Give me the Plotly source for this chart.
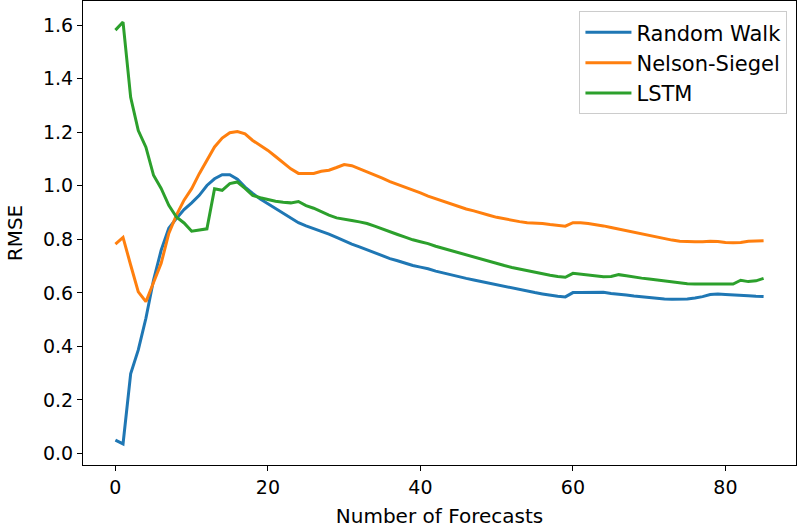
import plotly.graph_objects as go

# Forecast horizon index (number of forecasts)
n_forecasts = list(range(86))

random_walk = [
    0.050, 0.036, 0.298, 0.387, 0.505, 0.648, 0.759, 0.841, 0.878, 0.911,
    0.936, 0.964, 1.001, 1.026, 1.041, 1.041, 1.024, 0.995, 0.971, 0.950,
    0.933, 0.915, 0.896, 0.880, 0.862, 0.850, 0.840, 0.831, 0.819, 0.807,
    0.794, 0.782, 0.772, 0.761, 0.749, 0.738, 0.728, 0.720, 0.711, 0.702,
    0.696, 0.690, 0.681, 0.674, 0.666, 0.660, 0.654, 0.648, 0.642, 0.635,
    0.629, 0.623, 0.618, 0.612, 0.607, 0.601, 0.596, 0.591, 0.587, 0.585,
    0.601, 0.601, 0.602, 0.603, 0.602, 0.598, 0.596, 0.592, 0.588, 0.585,
    0.582, 0.580, 0.577, 0.576, 0.577, 0.577, 0.581, 0.586, 0.594, 0.596,
    0.594, 0.593, 0.592, 0.589, 0.587, 0.586,
]

nelson_siegel = [
    0.782, 0.807, 0.704, 0.604, 0.567, 0.635, 0.710, 0.822, 0.890, 0.946,
    0.989, 1.045, 1.097, 1.145, 1.178, 1.198, 1.202, 1.194, 1.169, 1.150,
    1.132, 1.109, 1.087, 1.063, 1.046, 1.045, 1.046, 1.054, 1.058, 1.068,
    1.079, 1.075, 1.064, 1.052, 1.040, 1.028, 1.015, 1.005, 0.995, 0.985,
    0.973, 0.961, 0.951, 0.941, 0.932, 0.922, 0.913, 0.906, 0.897, 0.890,
    0.882, 0.876, 0.871, 0.866, 0.862, 0.861, 0.859, 0.855, 0.851, 0.849,
    0.862, 0.862, 0.859, 0.855, 0.850, 0.844, 0.838, 0.831, 0.825, 0.819,
    0.813, 0.807, 0.802, 0.797, 0.793, 0.791, 0.791, 0.791, 0.793, 0.792,
    0.788, 0.787, 0.788, 0.793, 0.794, 0.795,
]

lstm = [
    1.581, 1.611, 1.330, 1.206, 1.144, 1.039, 0.990, 0.927, 0.883, 0.861,
    0.830, 0.834, 0.839, 0.989, 0.983, 1.008, 1.014, 0.990, 0.964, 0.955,
    0.948, 0.942, 0.938, 0.936, 0.941, 0.926, 0.916, 0.902, 0.890, 0.880,
    0.874, 0.870, 0.865, 0.859, 0.849, 0.838, 0.828, 0.818, 0.808, 0.798,
    0.791, 0.784, 0.774, 0.766, 0.757, 0.748, 0.740, 0.732, 0.725, 0.717,
    0.710, 0.702, 0.695, 0.689, 0.683, 0.676, 0.671, 0.666, 0.661, 0.658,
    0.673, 0.670, 0.666, 0.663, 0.660, 0.661, 0.668, 0.664, 0.659, 0.655,
    0.652, 0.648, 0.645, 0.642, 0.638, 0.634, 0.633, 0.632, 0.633, 0.633,
    0.634, 0.633, 0.647, 0.642, 0.645, 0.654,
]

series = [
    ("Random Walk", random_walk, "#1f77b4"),
    ("Nelson-Siegel", nelson_siegel, "#ff7f0e"),
    ("LSTM", lstm, "#2ca02c"),
]

x_ticks = [0, 20, 40, 60, 80]
y_ticks = [0.0, 0.2, 0.4, 0.6, 0.8, 1.0, 1.2, 1.4, 1.6]

FONT = "DejaVu Sans"

fig = go.Figure()
for i, (name, values, color) in enumerate(series):
    fig.add_trace(go.Scatter(
        x=n_forecasts, y=values, mode="lines", name=name,
        legendgroup=f"g{i}",
        line=dict(color=color, width=3),
    ))

# 5% padding around the data, like matplotlib's default autoscale
xmin, xmax = min(n_forecasts), max(n_forecasts)
all_y = random_walk + nelson_siegel + lstm
ymin, ymax = min(all_y), max(all_y)
xpad = 0.05 * (xmax - xmin)
ypad = 0.05 * (ymax - ymin)

axis_common = dict(
    showline=True, linecolor="black", linewidth=1.2, mirror=True,
    ticks="outside", ticklen=5, tickwidth=1.2, tickcolor="black",
    showgrid=False, zeroline=False,
    tickfont=dict(family=FONT, size=19, color="black"),
)

fig.update_layout(
    width=797, height=531,
    margin=dict(l=83, r=1, t=1, b=66),
    paper_bgcolor="white", plot_bgcolor="white",
    font=dict(family=FONT, size=19, color="black"),
    showlegend=True,
    legend=dict(
        x=0.988, y=0.978, xanchor="right", yanchor="top",
        bgcolor="rgba(255,255,255,0.8)", bordercolor="#cccccc", borderwidth=1,
        font=dict(family=FONT, size=21, color="black"),
        itemwidth=46,
        tracegroupgap=0, traceorder="grouped",
    ),
    xaxis=dict(
        range=[xmin - xpad, xmax + xpad],
        tickvals=x_ticks,
        title=dict(text="Number of Forecasts", font=dict(family=FONT, size=20), standoff=12),
        **axis_common,
    ),
    yaxis=dict(
        range=[ymin - ypad, ymax + ypad],
        tickvals=y_ticks, tickformat=".1f",
        title=dict(text="RMSE", font=dict(family=FONT, size=20), standoff=14),
        **axis_common,
    ),
)

fig.write_html("out.html")
